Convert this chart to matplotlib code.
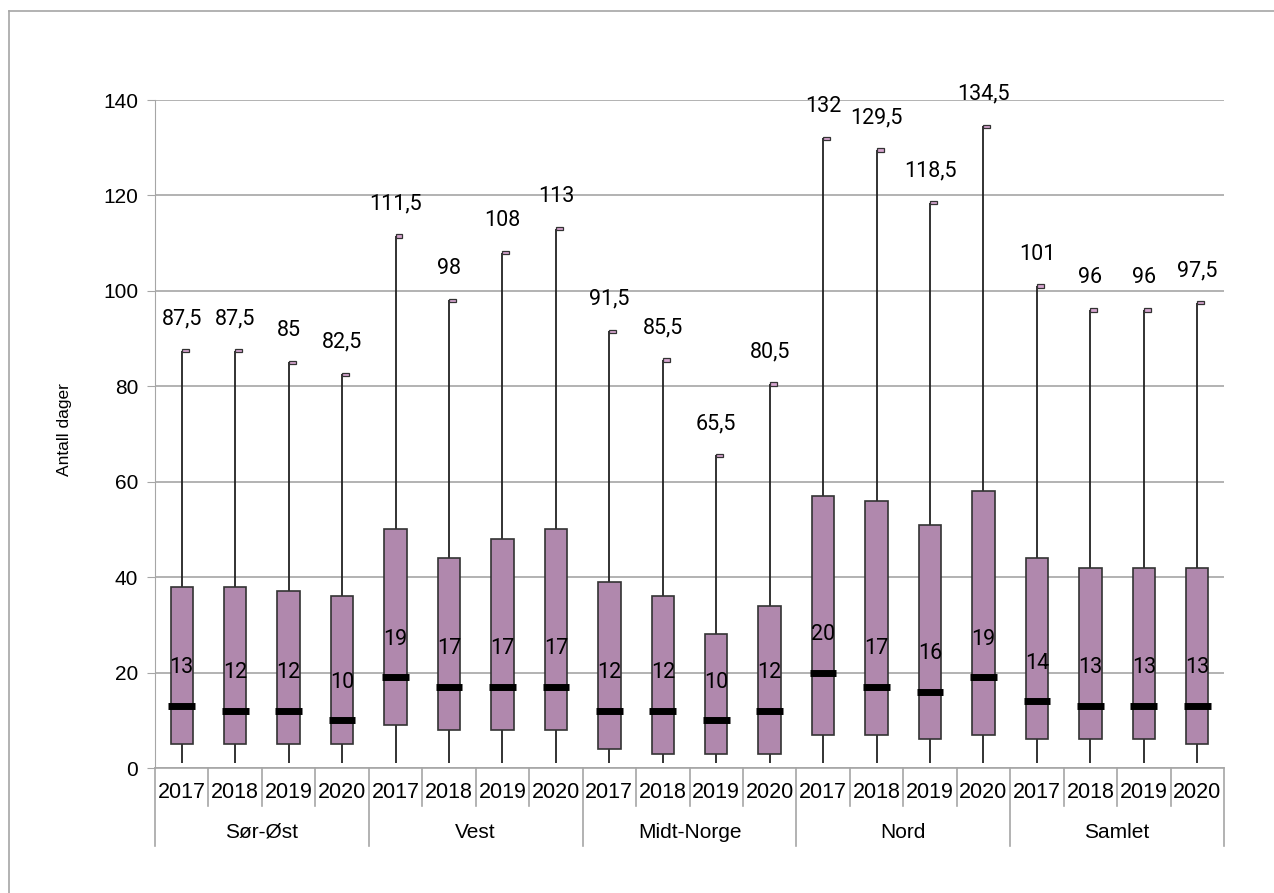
import numpy as np
import matplotlib.pyplot as plt
import matplotlib.transforms as mtransforms

### data ###
groups = ['Sør-Øst', 'Vest', 'Midt-Norge', 'Nord', 'Samlet']
years = ['2017', '2018', '2019', '2020']
minimum = [1]*20
q1 = [5, 5, 5, 5,   9, 8, 8, 8,   4, 3, 3, 3,   7, 7, 6, 7,   6, 6, 6, 5]
median = [13, 12, 12, 10,   19, 17, 17, 17,   12, 12, 10, 12,   20, 17, 16, 19,   14, 13, 13, 13]
q3 = [38, 38, 37, 36,   50, 44, 48, 50,   39, 36, 28, 34,   57, 56, 51, 58,   44, 42, 42, 42]
maximum = [87.5, 87.5, 85, 82.5,   111.5, 98, 108, 113,   91.5, 85.5, 65.5, 80.5,
           132, 129.5, 118.5, 134.5,   101, 96, 96, 97.5]

box_color = '#b088ad'
grid_color = '#a6a6a6'
W, H = 1274, 893

def fmt(v):
    return ('%g' % v).replace('.', ',')

fig = plt.figure(figsize=(W/100, H/100), dpi=100)
ax = fig.add_axes([155/W, 1-768/H, (1224-155)/W, (768-100)/H])

x = np.arange(len(q1))
ax.set_xlim(-0.5, len(q1)-0.5)
ax.set_ylim(0, 140)

# whiskers
ax.vlines(x, minimum, q1, color='#222222', lw=1.3, zorder=2)
ax.vlines(x, q3, maximum, color='#222222', lw=1.3, zorder=2)
# boxes
ax.bar(x, np.array(q3)-np.array(q1), bottom=q1, width=0.42, color=box_color,
       edgecolor='#333333', linewidth=1.2, zorder=3)
# medians
ax.hlines(median, x-0.25, x+0.25, color='black', lw=5, zorder=4)
# max caps
ax.bar(x, 0.7, bottom=np.array(maximum)-0.35, width=0.13, align='edge',
       color='#d7a6d0', edgecolor='#333333', linewidth=0.9, zorder=4)

for i in range(len(q1)):
    ax.annotate(fmt(maximum[i]), (x[i], maximum[i]), xytext=(0, 32),
                textcoords='offset pixels', ha='center', va='center',
                fontsize=15.5, family='Roboto', zorder=5)
    ax.text(x[i], median[i]+8, fmt(median[i]), ha='center', va='center',
            fontsize=15.5, family='Roboto', zorder=5)

# axes styling
for s in ['top', 'right', 'bottom']:
    ax.spines[s].set_visible(False)
ax.spines['left'].set_color(grid_color)
ax.set_yticks(np.arange(0, 141, 20))
ax.yaxis.grid(True, color=grid_color, lw=1.2)
ax.set_axisbelow(True)
ax.tick_params(axis='y', length=6, color=grid_color, labelsize=15, pad=6)
for lab in ax.get_yticklabels():
    lab.set_family('Liberation Sans')
ax.set_xticks([])

# multi-level category axis
trans = mtransforms.blended_transform_factory(ax.transData, ax.transAxes)
ax.plot([-0.5, len(q1)-0.5], [0, 0], color=grid_color, lw=1.2, transform=trans, clip_on=False)
for i in range(len(q1)+1):
    b = i - 0.5
    low = -0.117 if i % 4 == 0 else -0.057
    ax.plot([b, b], [0, low], color=grid_color, lw=1.2, transform=trans, clip_on=False)
for i in range(len(q1)):
    ax.text(x[i], -0.037, years[i % 4], transform=trans, ha='center', va='center',
            fontsize=15.5, family='Liberation Sans')
for g, name in enumerate(groups):
    ax.text(g*4+1.5, -0.096, name, transform=trans, ha='center', va='center',
            fontsize=15, family='Liberation Sans')

fig.text(65/W, 1-430/H, 'Antall dager', rotation=90, ha='center', va='center',
         fontsize=12.5, family='Liberation Sans')

# chart area border (left and top visible)
fig.add_artist(plt.Line2D([9/W, 9/W], [0, 1-11/H], color=grid_color, lw=1.2))
fig.add_artist(plt.Line2D([9/W, 1], [1-11/H, 1-11/H], color=grid_color, lw=1.2))

fig.savefig('out.png', dpi=100)
